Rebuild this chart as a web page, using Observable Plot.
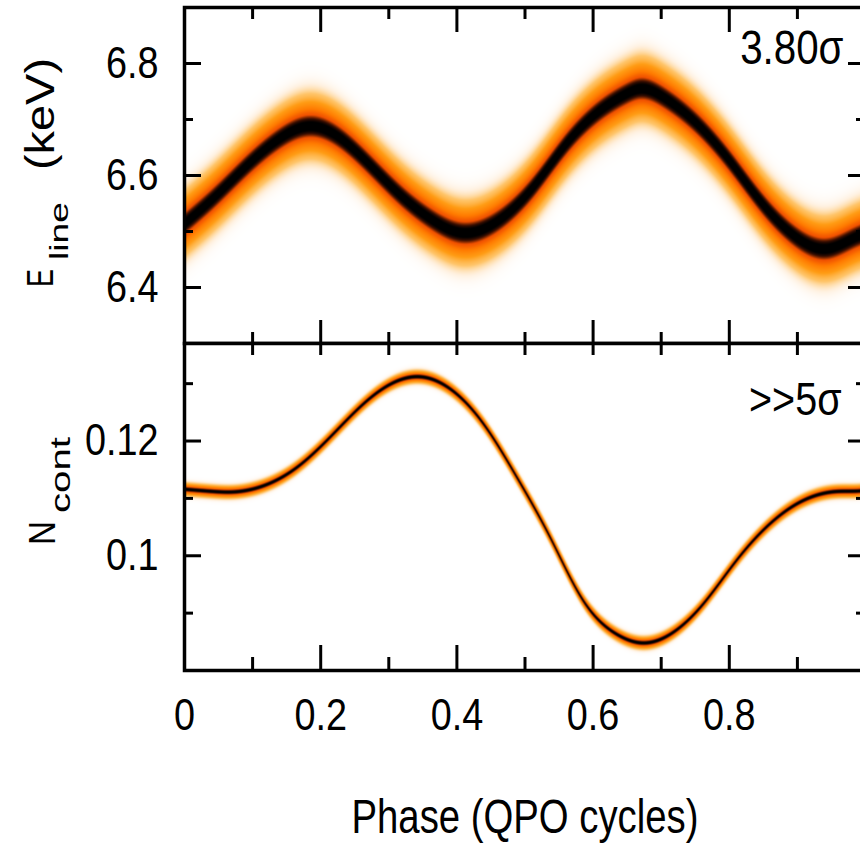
<!DOCTYPE html>
<html><head><meta charset="utf-8">
<script src="https://cdn.jsdelivr.net/npm/d3@7"></script>
<script src="https://cdn.jsdelivr.net/npm/@observablehq/plot@0.6"></script>
<style>
html,body{margin:0;padding:0;background:#fff;overflow:hidden;}
#wrap{position:relative;width:860px;height:846px;overflow:hidden;}
#wrap svg{position:absolute;left:0;}
</style></head><body><div id="wrap"></div>
<script>
// ---- data ----
const phaseE = [0, 0.043, 0.092, 0.141, 0.185, 0.214, 0.263, 0.317, 0.366, 0.405, 0.454, 0.512, 0.561, 0.61, 0.649, 0.669, 0.703, 0.752, 0.80, 0.849, 0.898, 0.942, 0.986, 1.0];
const eLine  = [6.514, 6.560, 6.618, 6.667, 6.688, 6.678, 6.630, 6.565, 6.519, 6.498, 6.514, 6.579, 6.657, 6.716, 6.746, 6.755, 6.740, 6.693, 6.627, 6.549, 6.490, 6.469, 6.490, 6.497];
const phaseN = [0, 0.043, 0.067, 0.116, 0.165, 0.214, 0.263, 0.346, 0.39, 0.439, 0.488, 0.537, 0.586, 0.635, 0.673, 0.713, 0.761, 0.81, 0.859, 0.908, 0.957, 0.991, 1.0];
const nCont  = [0.1116, 0.1112, 0.1111, 0.1122, 0.1154, 0.1207, 0.1265, 0.1312, 0.1291, 0.1230, 0.1137, 0.1032, 0.0921, 0.0863, 0.0848, 0.0863, 0.0915, 0.0991, 0.1055, 0.1096, 0.1112, 0.1113, 0.1114];
const eSpread = 0.030;    // posterior spread of E_line (keV)
const nSpread = 0.0006;   // posterior spread of N_cont
const xDomain = [0, 1];
const eDomain = [6.3, 6.9];
const nDomain = [0.08, 0.137];
const xTickLabels = [0, 0.2, 0.4, 0.6, 0.8];
const xMajor = [0.2, 0.4, 0.6, 0.8];
const xMinor = [0.1, 0.3, 0.5, 0.7, 0.9];
const eMajor = [6.4, 6.6, 6.8];
const eMinor = [6.5, 6.7];
const nMajor = [0.1, 0.12];
const nMinor = [0.09, 0.11, 0.13];
const sigTop = ["3.80σ"];
const sigBottom = [">>5σ"];
const xTitle = ["Phase (QPO cycles)"];
const densityStops  = [0, 0.04, 0.15, 0.35, 0.6, 0.8, 0.91, 0.97, 1];
const densityColors = ["#ffffff", "#fff1e0", "#ffc56a", "#ff9c14", "#ff7a00", "#f05000", "#3a0e00", "#000000", "#000000"];

const FONT = "'Liberation Sans', Arial, sans-serif";
const SQUEEZE = 0.84;

function naturalSpline(xs, ys) {
  const n = xs.length, h = [];
  for (let i = 0; i < n - 1; i++) h[i] = xs[i + 1] - xs[i];
  const a = new Array(n).fill(0), b = new Array(n).fill(1), c = new Array(n).fill(0), d = new Array(n).fill(0);
  for (let i = 1; i < n - 1; i++) {
    a[i] = h[i - 1]; b[i] = 2 * (h[i - 1] + h[i]); c[i] = h[i];
    d[i] = 6 * ((ys[i + 1] - ys[i]) / h[i] - (ys[i] - ys[i - 1]) / h[i - 1]);
  }
  for (let i = 1; i < n; i++) { const w = a[i] / b[i - 1]; b[i] -= w * c[i - 1]; d[i] -= w * d[i - 1]; }
  const M = new Array(n); M[n - 1] = d[n - 1] / b[n - 1];
  for (let i = n - 2; i >= 0; i--) M[i] = (d[i] - c[i] * M[i + 1]) / b[i];
  return x => {
    const i = Math.max(0, Math.min(n - 2, d3.bisectRight(xs, x) - 1));
    const hi = h[i], t = x - xs[i], u = xs[i + 1] - x;
    return M[i] * u * u * u / (6 * hi) + M[i + 1] * t * t * t / (6 * hi)
      + (ys[i] / hi - M[i] * hi / 6) * u + (ys[i + 1] / hi - M[i + 1] * hi / 6) * t;
  };
}
const cE = naturalSpline(phaseE, eLine);
const cN = naturalSpline(phaseN, nCont);

const W = 860, ML = 184, MR = -5;
const FW = W - ML - MR;

function tickMarks(H, topLenMajor, topLenMinor, botLenMajor, botLenMinor, yMaj, yMin) {
  const s = {stroke: "black", strokeWidth: 3};
  return [
    Plot.tickX(xMajor, {x: d => d, insetBottom: H - topLenMajor, ...s}),
    Plot.tickX(xMinor, {x: d => d, insetBottom: H - topLenMinor, ...s}),
    Plot.tickX(xMajor, {x: d => d, insetTop: H - botLenMajor, ...s}),
    Plot.tickX(xMinor, {x: d => d, insetTop: H - botLenMinor, ...s}),
    Plot.tickY(yMaj, {y: d => d, insetRight: FW - 17, ...s}),
    Plot.tickY(yMin, {y: d => d, insetRight: FW - 9, ...s}),
    Plot.tickY(yMaj, {y: d => d, insetLeft: FW - 17, ...s}),
    Plot.tickY(yMin, {y: d => d, insetLeft: FW - 9, ...s})
  ];
}

// ---- top panel ----
const topH = 345, topMT = 7, topMB = 2;
const topFH = topH - topMT - topMB;
const topPlot = Plot.plot({
  width: W, height: topH,
  marginLeft: ML, marginRight: MR, marginTop: topMT, marginBottom: topMB,
  style: {fontFamily: FONT, background: "transparent", overflow: "visible"},
  x: {domain: xDomain, axis: null},
  y: {domain: eDomain},
  color: {type: "linear", domain: densityStops, range: densityColors, interpolate: "rgb"},
  marks: [
    Plot.raster({x1: 0, x2: 1, y1: eDomain[0], y2: eDomain[1], pixelSize: 1,
      fill: (x, y) => Math.exp(-0.5 * ((y - cE(x)) / eSpread) ** 2)}),
    ...tickMarks(topFH, 25, 12, 23, 11, eMajor, eMinor),
    Plot.frame({stroke: "black", strokeWidth: 3.5}),
    Plot.axisY(eMajor, {tickSize: 0, tickPadding: 26, fontSize: 45, label: null, tickFormat: d => String(d), fill: "black"}),
    Plot.text(sigTop, {text: d => d, frameAnchor: "top-right", dx: -22, dy: 56, lineAnchor: "bottom", textAnchor: "end", fontSize: 48, fill: "black"})
  ]
});
topPlot.style.top = "0px";

// ---- bottom panel ----
const botTopPx = 341;
const botH = 846 - botTopPx, botMT = 2, botMB = botH - (670 - botTopPx);
const botFH = botH - botMT - botMB;
const bottomPlot = Plot.plot({
  width: W, height: botH,
  marginLeft: ML, marginRight: MR, marginTop: botMT, marginBottom: botMB,
  style: {fontFamily: FONT, background: "transparent", overflow: "visible"},
  x: {domain: xDomain},
  y: {domain: nDomain},
  color: {type: "linear", domain: densityStops, range: densityColors, interpolate: "rgb"},
  marks: [
    Plot.raster({x1: 0, x2: 1, y1: nDomain[0], y2: nDomain[1], pixelSize: 0.5,
      fill: (x, y) => Math.exp(-0.5 * ((y - cN(x)) / nSpread) ** 2)}),
    ...tickMarks(botFH, 12, 12, 25, 13, nMajor, nMinor),
    Plot.frame({stroke: "black", strokeWidth: 3.5}),
    Plot.axisY(nMajor, {tickSize: 0, tickPadding: 26, fontSize: 45, label: null, tickFormat: d => String(d), fill: "black"}),
    Plot.axisX(xTickLabels, {tickSize: 0, tickPadding: 28, fontSize: 45, label: null, tickFormat: d => String(d), fill: "black"}),
    Plot.text(sigBottom, {text: d => d, frameAnchor: "top-right", dx: -24, dy: 71, lineAnchor: "bottom", textAnchor: "end", fontSize: 47, fill: "black"}),
    Plot.text(xTitle, {text: d => d, frameAnchor: "bottom", dy: 162, lineAnchor: "bottom", fontSize: 48, fill: "black"})
  ]
});
bottomPlot.style.top = botTopPx + "px";

const wrap = document.getElementById("wrap");
wrap.appendChild(topPlot);
wrap.appendChild(bottomPlot);

// narrow the text like the condensed face of the reference
for (const svg of [topPlot, bottomPlot]) {
  d3.select(svg).selectAll("text").each(function () {
    const len = this.getComputedTextLength();
    if (len > 0) {
      const target = this.textContent === xTitle[0] ? 347 : len * SQUEEZE;
      this.setAttribute("textLength", target);
      this.setAttribute("lengthAdjust", "spacingAndGlyphs");
    }
  });
}

// ---- rotated y titles with subscripts (one text per part) ----
function yTitle(svg, parts) {
  const g = d3.select(svg).append("g").attr("font-family", FONT).attr("fill", "black").attr("text-anchor", "start");
  for (const p of parts) {
    g.append("text")
      .attr("text-anchor", "start")
      .attr("transform", `translate(${p.b},${p.s}) rotate(-90)`)
      .attr("font-size", p.f)
      .attr("textLength", p.l).attr("lengthAdjust", "spacingAndGlyphs")
      .text(p.t);
  }
}
yTitle(topPlot, [
  {t: "E", s: 287, b: 53, f: 36, l: 18},
  {t: "line", s: 260, b: 68, f: 26, l: 58},
  {t: "(keV)", s: 170, b: 54, f: 40, l: 112}
]);
yTitle(bottomPlot, [
  {t: "N", s: 545 - botTopPx, b: 55, f: 36, l: 24},
  {t: "cont", s: 513 - botTopPx, b: 70, f: 28, l: 76}
]);
</script></body></html>
